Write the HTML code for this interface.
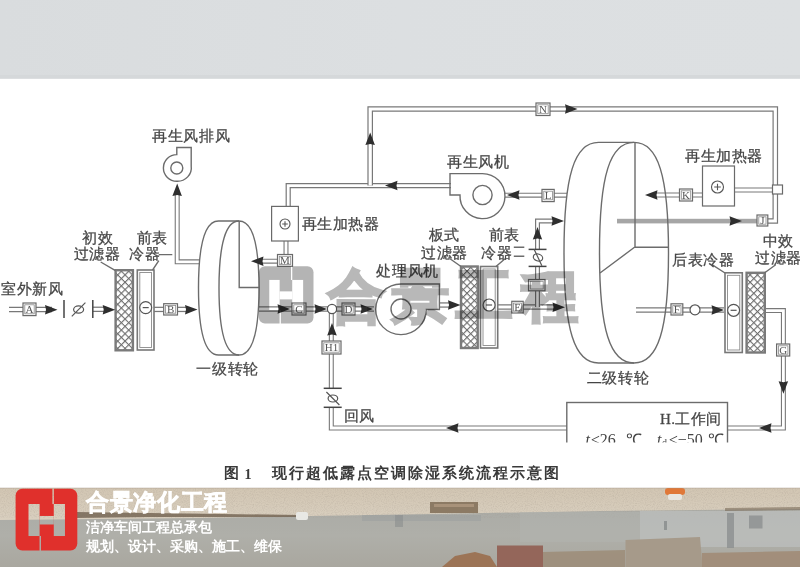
<!DOCTYPE html>
<html><head><meta charset="utf-8">
<style>
html,body{margin:0;padding:0;background:#fff;width:800px;height:567px;overflow:hidden}
svg{display:block;filter:blur(0.35px)}
.t{font-family:"Liberation Serif",serif;font-size:15px;letter-spacing:0.6px;fill:#464646;stroke:#464646;stroke-width:0.28px}
.bx{fill:#fff;stroke:#6a6a6a;stroke-width:1.2}
.ln{fill:none;stroke:#6c6c6c;stroke-width:1.4}
.po{fill:none;stroke:#787878;stroke-linejoin:miter;stroke-linecap:butt}
.pi{fill:none;stroke:#fff;stroke-linejoin:miter;stroke-linecap:butt}
.ar{fill:#2e2e2e}
.lt{font-family:"Liberation Serif",serif;font-size:11px;fill:#555;text-anchor:middle}
</style></head><body>
<svg width="800" height="567" viewBox="0 0 800 567">
<defs>
<pattern id="hatch" width="5.2" height="5.2" patternUnits="userSpaceOnUse" patternTransform="translate(0,2) rotate(45)">
<rect width="5.2" height="5.2" fill="#fff"/>
<path d="M0 0H5.2M0 0V5.2" stroke="#6e6e6e" stroke-width="2.3"/>
</pattern>
<linearGradient id="sky" x1="0" y1="0" x2="1" y2="0">
<stop offset="0" stop-color="#d9dcde"/><stop offset="0.5" stop-color="#dcdfe1"/><stop offset="1" stop-color="#dde0e2"/>
</linearGradient>
</defs>

<rect x="0" y="0" width="800" height="78.6" fill="url(#sky)"/>
<rect x="0" y="75" width="800" height="3.6" fill="#d5d8da"/>
<path class="po" d="M9,309.5H52" style="stroke-width:5.4"/>
<path class="pi" d="M9,309.5H52" style="stroke-width:2.9"/>
<path class="po" d="M93,309.3H104" style="stroke-width:5.4"/>
<path class="pi" d="M93,309.3H104" style="stroke-width:2.9"/>
<path class="po" d="M154,309.4H186" style="stroke-width:5.4"/>
<path class="pi" d="M154,309.4H186" style="stroke-width:2.9"/>
<path class="po" d="M259,309H374" style="stroke-width:5.4"/>
<path class="pi" d="M259,309H374" style="stroke-width:2.9"/>
<path class="po" d="M439,305H450" style="stroke-width:5.4"/>
<path class="pi" d="M439,305H450" style="stroke-width:2.9"/>
<path class="po" d="M497.7,307H554" style="stroke-width:5.4"/>
<path class="pi" d="M497.7,307H554" style="stroke-width:2.9"/>
<path class="po" d="M537.5,307V266.4" style="stroke-width:5.0"/>
<path class="pi" d="M537.5,307V266.4" style="stroke-width:2.6"/>
<path class="po" d="M537.5,249.4V221H554" style="stroke-width:5.0"/>
<path class="pi" d="M537.5,249.4V221H554" style="stroke-width:2.6"/>
<path class="po" d="M636,310H724" style="stroke-width:5.4"/>
<path class="pi" d="M636,310H724" style="stroke-width:2.9"/>
<path class="po" d="M288.2,206.4V185.6H451" style="stroke-width:5.2"/>
<path class="pi" d="M288.2,206.4V185.6H451" style="stroke-width:2.8"/>
<path class="po" d="M370.2,185.6V109H775.3V221H767" style="stroke-width:5.6"/>
<path class="pi" d="M370.2,185.6V109H775.3V221H767" style="stroke-width:3.2"/>
<path class="po" d="M567,195.2H505" style="stroke-width:5.0"/>
<path class="pi" d="M567,195.2H505" style="stroke-width:2.8"/>
<path class="po" d="M734.5,190H773" style="stroke-width:5.0"/>
<path class="pi" d="M734.5,190H773" style="stroke-width:2.8"/>
<path class="po" d="M702.5,195H656" style="stroke-width:5.0"/>
<path class="pi" d="M702.5,195H656" style="stroke-width:2.8"/>
<path class="po" d="M286,241V261.2H262" style="stroke-width:5.0"/>
<path class="pi" d="M286,241V261.2H262" style="stroke-width:2.8"/>
<path class="po" d="M200,261.8H177.2V194" style="stroke-width:5.0"/>
<path class="pi" d="M200,261.8H177.2V194" style="stroke-width:2.8"/>
<path class="po" d="M331.3,313V388.3" style="stroke-width:5.0"/>
<path class="pi" d="M331.3,313V388.3" style="stroke-width:2.8"/>
<path class="po" d="M331.3,407.3V428H567" style="stroke-width:5.0"/>
<path class="pi" d="M331.3,407.3V428H567" style="stroke-width:2.8"/>
<path class="po" d="M727.5,428H783.4V310.6H764.8" style="stroke-width:5.0"/>
<path class="pi" d="M727.5,428H783.4V310.6H764.8" style="stroke-width:2.8"/>
<rect x="617" y="218.8" width="141" height="4.6" fill="#a6a6a6"/>
<path class="ln" d="M239,221 L218.5,221 C205.3,221 198.5,243.8 198.5,288 C198.5,332.2 205.3,355 218.5,355 L239,355"/>
<path class="ln" d="M239,221 C252.2,221 259,243.8 259,288 C259,332.2 252.2,355 239,355 C225.8,355 219,332.2 219,288 C219,243.8 225.8,221 239,221Z"/>
<path class="ln" d="M239.2,221V287.5H259"/>
<path class="ln" d="M634,142.39999999999998 L598.5,142.39999999999998 C574.4,142.39999999999998 564.0,175.5 564.0,252.7 C564.0,329.9 574.4,363.0 598.5,363.0 L634,363.0"/>
<path class="ln" d="M634,142.39999999999998 C658.1,142.39999999999998 668.5,175.5 668.5,252.7 C668.5,329.9 658.1,363.0 634,363.0 C609.9,363.0 599.5,329.9 599.5,252.7 C599.5,175.5 609.9,142.39999999999998 634,142.39999999999998Z"/>
<path class="ln" d="M635,142.5V247.3H668.5M634.5,247.3L600,273"/>
<rect x="115.6" y="270.2" width="17.3" height="80.1" fill="url(#hatch)" stroke="#7a7a7a" stroke-width="2.4"/>
<rect x="137.3" y="270" width="16.7" height="80.0" fill="#fff" stroke="#777" stroke-width="1.6"/>
<rect x="139.8" y="272.5" width="11.7" height="75.0" fill="none" stroke="#8a8a8a" stroke-width="0.9"/>
<circle cx="145.7" cy="307.6" r="6" fill="#fff" stroke="#555" stroke-width="1.2"/>
<line x1="142.7" y1="307.6" x2="148.7" y2="307.6" stroke="#555" stroke-width="1.2"/>
<rect x="461" y="266.5" width="16.7" height="81.5" fill="url(#hatch)" stroke="#7a7a7a" stroke-width="2.4"/>
<rect x="480.5" y="266.5" width="17.2" height="81.5" fill="#fff" stroke="#777" stroke-width="1.6"/>
<rect x="483.0" y="269.0" width="12.2" height="76.5" fill="none" stroke="#8a8a8a" stroke-width="0.9"/>
<circle cx="489.1" cy="305" r="6" fill="#fff" stroke="#555" stroke-width="1.2"/>
<line x1="486.1" y1="305" x2="492.1" y2="305" stroke="#555" stroke-width="1.2"/>
<rect x="725" y="272.8" width="17.3" height="79.7" fill="#fff" stroke="#777" stroke-width="1.6"/>
<rect x="727.5" y="275.3" width="12.3" height="74.7" fill="none" stroke="#8a8a8a" stroke-width="0.9"/>
<circle cx="733.6" cy="310.3" r="6" fill="#fff" stroke="#555" stroke-width="1.2"/>
<line x1="730.6" y1="310.3" x2="736.6" y2="310.3" stroke="#555" stroke-width="1.2"/>
<rect x="746.6" y="272.8" width="18.2" height="79.7" fill="url(#hatch)" stroke="#7a7a7a" stroke-width="2.4"/>
<rect class="bx" x="271.6" y="206.4" width="26.8" height="34.6"/>
<circle cx="285" cy="224" r="5" fill="none" stroke="#555" stroke-width="1.1"/>
<path d="M282.2 224H287.8M285 221.2V226.8" stroke="#555" stroke-width="1.1"/>
<rect class="bx" x="702.5" y="166" width="32.0" height="40.0"/>
<circle cx="717.5" cy="187" r="6" fill="none" stroke="#555" stroke-width="1.1"/>
<path d="M714.2 187H720.8M717.5 183.7V190.3" stroke="#555" stroke-width="1.1"/>
<rect class="bx" x="23" y="303" width="13.0" height="12.6"/>
<rect fill="none" stroke="#8a8a8a" stroke-width="0.8" x="24.8" y="304.8" width="9.4" height="9.0"/>
<text class="lt" x="29.5" y="312.9">A</text>
<rect class="bx" x="163.7" y="303.7" width="13.8" height="11.3"/>
<rect fill="none" stroke="#8a8a8a" stroke-width="0.8" x="165.5" y="305.5" width="10.2" height="7.7"/>
<text class="lt" x="170.6" y="313.0">B</text>
<rect class="bx" x="292" y="303" width="14.0" height="12.0"/>
<rect fill="none" stroke="#8a8a8a" stroke-width="0.8" x="293.8" y="304.8" width="10.4" height="8.4"/>
<text class="lt" x="299.0" y="312.6">C</text>
<rect class="bx" x="342" y="303" width="13.0" height="12.0"/>
<rect fill="none" stroke="#8a8a8a" stroke-width="0.8" x="343.8" y="304.8" width="9.4" height="8.4"/>
<text class="lt" x="348.5" y="312.6">D</text>
<rect class="bx" x="511.8" y="301.3" width="11.4" height="11.7"/>
<rect fill="none" stroke="#8a8a8a" stroke-width="0.8" x="513.6" y="303.1" width="7.8" height="8.1"/>
<text class="lt" x="517.5" y="310.8">E</text>
<rect class="bx" x="671" y="303.8" width="11.8" height="11.2"/>
<rect fill="none" stroke="#8a8a8a" stroke-width="0.8" x="672.8" y="305.6" width="8.2" height="7.6"/>
<text class="lt" x="676.9" y="313.0">F</text>
<rect class="bx" x="776.6" y="344" width="13.1" height="12.0"/>
<rect fill="none" stroke="#8a8a8a" stroke-width="0.8" x="778.4" y="345.8" width="9.5" height="8.4"/>
<text class="lt" x="783.2" y="353.6">G</text>
<rect class="bx" x="322" y="341" width="19.0" height="13.0"/>
<rect fill="none" stroke="#8a8a8a" stroke-width="0.8" x="323.8" y="342.8" width="15.4" height="9.4"/>
<text class="lt" x="331.5" y="351.1">H1</text>
<rect class="bx" x="757" y="215" width="10.8" height="11.0"/>
<rect fill="none" stroke="#8a8a8a" stroke-width="0.8" x="758.8" y="216.8" width="7.2" height="7.4"/>
<text class="lt" x="762.4" y="224.1">J</text>
<rect class="bx" x="679.5" y="189" width="13.0" height="12.0"/>
<rect fill="none" stroke="#8a8a8a" stroke-width="0.8" x="681.3" y="190.8" width="9.4" height="8.4"/>
<text class="lt" x="686.0" y="198.6">K</text>
<rect class="bx" x="542" y="189.4" width="12.2" height="12.2"/>
<rect fill="none" stroke="#8a8a8a" stroke-width="0.8" x="543.8" y="191.2" width="8.6" height="8.6"/>
<text class="lt" x="548.1" y="199.1">L</text>
<rect class="bx" x="277.5" y="254.5" width="15.0" height="11.8"/>
<rect fill="none" stroke="#8a8a8a" stroke-width="0.8" x="279.3" y="256.3" width="11.4" height="8.2"/>
<text class="lt" x="285.0" y="264.0">M</text>
<rect class="bx" x="536" y="103" width="14.0" height="12.5"/>
<rect fill="none" stroke="#8a8a8a" stroke-width="0.8" x="537.8" y="104.8" width="10.4" height="8.9"/>
<text class="lt" x="543.0" y="112.8">N</text>
<rect class="bx" x="528.5" y="279.5" width="16.5" height="11.3"/>
<rect fill="none" stroke="#8a8a8a" stroke-width="0.8" x="530.3" y="281.3" width="12.9" height="7.7"/>
<text class="lt" x="536.8" y="288.8"></text>
<rect class="bx" x="772.5" y="185" width="10" height="9"/>
<circle cx="332" cy="309" r="4.6" fill="#fff" stroke="#555" stroke-width="1.2"/>
<circle cx="695" cy="309.8" r="5" fill="#fff" stroke="#555" stroke-width="1.2"/>
<line x1="64" y1="300" x2="64" y2="318" stroke="#444" stroke-width="1.5"/>
<line x1="92.8" y1="300" x2="92.8" y2="318" stroke="#444" stroke-width="1.5"/>
<g transform="translate(78.6,309.5) rotate(0)"><ellipse cx="0" cy="0" rx="5" ry="3.6" fill="none" stroke="#555" stroke-width="1.2"/><line x1="-6.8" y1="6.8" x2="6.8" y2="-6.8" stroke="#555" stroke-width="1.2"/></g>
<line x1="528.6" y1="249.4" x2="546.5" y2="249.4" stroke="#444" stroke-width="1.5"/>
<line x1="528.6" y1="266.4" x2="546.5" y2="266.4" stroke="#444" stroke-width="1.5"/>
<g transform="translate(538,257.5) rotate(20)"><ellipse cx="0" cy="0" rx="4.8" ry="3.5" fill="none" stroke="#555" stroke-width="1.2"/><line x1="-6.5" y1="-6.5" x2="6.5" y2="6.5" stroke="#555" stroke-width="1.2"/></g>
<line x1="323.7" y1="388.3" x2="341.7" y2="388.3" stroke="#444" stroke-width="1.5"/>
<line x1="323.7" y1="407.3" x2="341.7" y2="407.3" stroke="#444" stroke-width="1.5"/>
<g transform="translate(332.9,398.5) rotate(0)"><ellipse cx="0" cy="0" rx="4.8" ry="3.5" fill="none" stroke="#555" stroke-width="1.2"/><line x1="-6.5" y1="-6.5" x2="6.5" y2="6.5" stroke="#555" stroke-width="1.2"/></g>
<polygon class="ar" points="57.5,309.8 45.0,305.1 46.0,309.8 45.0,314.6"/>
<polygon class="ar" points="115.2,309.7 102.7,304.9 103.7,309.7 102.7,314.4"/>
<polygon class="ar" points="197.5,309.6 185.0,304.9 186.0,309.6 185.0,314.4"/>
<polygon class="ar" points="290.0,309.0 277.5,304.2 278.5,309.0 277.5,313.8"/>
<polygon class="ar" points="327.0,309.0 314.5,304.2 315.5,309.0 314.5,313.8"/>
<polygon class="ar" points="373.0,309.0 360.5,304.2 361.5,309.0 360.5,313.8"/>
<polygon class="ar" points="460.5,305.0 448.0,300.2 449.0,305.0 448.0,309.8"/>
<polygon class="ar" points="565.0,307.3 552.5,302.6 553.5,307.3 552.5,312.1"/>
<polygon class="ar" points="564.0,221.0 551.5,216.2 552.5,221.0 551.5,225.8"/>
<polygon class="ar" points="537.5,227.0 532.8,239.5 537.5,238.5 542.2,239.5"/>
<polygon class="ar" points="724.0,310.0 711.5,305.2 712.5,310.0 711.5,314.8"/>
<polygon class="ar" points="370.2,132.5 365.4,145.0 370.2,144.0 374.9,145.0"/>
<polygon class="ar" points="577.5,109.0 565.0,104.2 566.0,109.0 565.0,113.8"/>
<polygon class="ar" points="385.0,185.6 397.5,180.8 396.5,185.6 397.5,190.3"/>
<polygon class="ar" points="507.0,195.0 519.5,190.2 518.5,195.0 519.5,199.8"/>
<polygon class="ar" points="645.0,195.0 657.5,190.2 656.5,195.0 657.5,199.8"/>
<polygon class="ar" points="251.0,261.2 263.5,256.4 262.5,261.2 263.5,265.9"/>
<polygon class="ar" points="177.2,183.5 172.4,196.0 177.2,195.0 181.9,196.0"/>
<polygon class="ar" points="742.0,221.0 729.5,216.2 730.5,221.0 729.5,225.8"/>
<polygon class="ar" points="332.0,323.0 327.2,335.5 332.0,334.5 336.8,335.5"/>
<polygon class="ar" points="446.0,428.0 458.5,423.2 457.5,428.0 458.5,432.8"/>
<polygon class="ar" points="783.4,393.8 778.6,381.3 783.4,382.3 788.1,381.3"/>
<polygon class="ar" points="759.0,428.0 771.5,423.2 770.5,428.0 771.5,432.8"/>
<path class="ln" d="M176.8,147.5H191.2V166A14,13.5 0 0 1 176.8,181.3A13.4,13.4 0 0 1 163.4,168A13.4,13.4 0 0 1 176.8,154.6Z" fill="#fff"/>
<circle class="ln" cx="176.8" cy="168" r="6"/>
<path class="ln" d="M450,195V173.6H482.5A22.5,22.5 0 1 1 460,195Z" fill="#fff"/>
<circle class="ln" cx="482.5" cy="195" r="9.6"/>
<path class="ln" d="M439.4,309.5V284H401A25.3,25.3 0 1 0 426.3,309.5Z" fill="#fff"/>
<circle class="ln" cx="401" cy="309" r="10"/>
<path class="ln" d="M100.7,262L115.5,270.6M158.8,260.7L152.6,270M158.8,254.6H172.3"/>
<path class="ln" d="M450,258.7L461,266.5M505,258.7L496,266.5M513.8,247.3H524.3M513.8,256.2H524.3"/>
<path class="ln" d="M712,264.7L725,273M775.7,264.7L764.4,273"/>
<rect class="ln" x="566.8" y="402.5" width="160.7" height="60"/>
<text class="t" x="152.3" y="141.2" style="font-size:15px">再生风排风</text>
<text class="t" x="1" y="294.4" style="font-size:15px">室外新风</text>
<text class="t" x="82" y="242.5" style="font-size:15px">初效</text>
<text class="t" x="73.6" y="259.3" style="font-size:15px">过滤器</text>
<text class="t" x="136.5" y="242.5" style="font-size:15px">前表</text>
<text class="t" x="129" y="259.3" style="font-size:15px">冷器</text>
<text class="t" x="301.5" y="229.2" style="font-size:15px">再生加热器</text>
<text class="t" x="196.4" y="373.7" style="font-size:15px">一级转轮</text>
<text class="t" x="376.4" y="275.9" style="font-size:15px">处理风机</text>
<text class="t" x="428.7" y="240.1" style="font-size:15px">板式</text>
<text class="t" x="421" y="257.7" style="font-size:15px">过滤器</text>
<text class="t" x="488.7" y="240.1" style="font-size:15px">前表</text>
<text class="t" x="481.3" y="257.7" style="font-size:15px">冷器</text>
<text class="t" x="447.3" y="167.2" style="font-size:15px">再生风机</text>
<text class="t" x="685" y="161.3" style="font-size:15px">再生加热器</text>
<text class="t" x="672.3" y="264.9" style="font-size:15px">后表冷器</text>
<text class="t" x="762.5" y="246.3" style="font-size:15px">中效</text>
<text class="t" x="755" y="263.3" style="font-size:15px">过滤器</text>
<text class="t" x="586.8" y="382.5" style="font-size:15px">二级转轮</text>
<text class="t" x="343.8" y="420.7" style="font-size:15px">回风</text>
<text class="t" x="660" y="423.6" style="font-size:15px;letter-spacing:0.4px">H.工作间</text>
<g style="font-family:'Liberation Serif',serif;font-size:16px;fill:#444">
<text x="585.5" y="444.5" font-style="italic">t</text><text x="591" y="444.5">≤26</text><text x="626" y="444.5">℃</text>
<text x="657" y="444.5" font-style="italic">t</text><text x="662" y="446" font-size="10">d</text><text x="669" y="444.5">≤−50</text><text x="708" y="444.5">℃</text>
</g>
<rect x="0" y="442.5" width="800" height="46" fill="#fff"/>
<text x="223.5" y="478.3" style="font-family:'Liberation Sans',sans-serif;font-size:14.5px;font-weight:bold;fill:#3a3a3a">图</text>
<text x="244.5" y="478.5" style="font-family:'Liberation Serif',serif;font-size:14px;font-weight:bold;fill:#3a3a3a">1</text>
<text x="271.5" y="478.3" style="font-family:'Liberation Sans',sans-serif;font-size:15px;font-weight:bold;fill:#3a3a3a;letter-spacing:2.06px">现行超低露点空调除湿系统流程示意图</text>
<g style="mix-blend-mode:multiply">
<g transform="translate(258.9,266.2)" opacity="1.0"><mask id="lgm1" maskUnits="userSpaceOnUse" x="-1" y="-1" width="56.6" height="59.2"><rect x="-1" y="-1" width="56.6" height="59.2" fill="#fff"/><rect x="10.37" y="13.73" width="10.37" height="30.09" fill="#000"/><rect x="33.31" y="13.73" width="10.92" height="30.09" fill="#000"/><rect x="20.69" y="25.17" width="12.67" height="8.01" fill="#000"/><rect x="32.10" y="-2.86" width="1.26" height="16.65" fill="#000"/><rect x="20.69" y="43.76" width="1.26" height="16.30" fill="#000"/></mask><rect x="0" y="0" width="54.60" height="57.20" rx="6.01" fill="#b4b4b4" mask="url(#lgm1)"/></g>
<text x="328" y="316" style="font-family:'Liberation Sans',sans-serif;font-size:57px;font-weight:bold;fill:#b8b8b8;stroke:#b8b8b8;stroke-width:2.6px;stroke-linejoin:miter;letter-spacing:7.2px">合景工程</text>
</g>

<defs>
<linearGradient id="grav" x1="0" y1="0" x2="0" y2="1">
<stop offset="0" stop-color="#d2c6b3"/><stop offset="1" stop-color="#d9cfbf"/>
</linearGradient>
<linearGradient id="conc" x1="0" y1="0" x2="0" y2="1">
<stop offset="0" stop-color="#a8a9a4"/><stop offset="0.6" stop-color="#afafa9"/><stop offset="1" stop-color="#a9a79f"/>
</linearGradient>
<filter id="noise" x="0" y="0" width="100%" height="100%">
<feTurbulence type="fractalNoise" baseFrequency="0.9" numOctaves="2" seed="3"/>
<feColorMatrix values="0 0 0 0 0.35  0 0 0 0 0.3  0 0 0 0 0.25  0 0 0 1.1 -0.45"/>
</filter>
</defs>
<rect x="0" y="488" width="800" height="79" fill="url(#conc)"/>
<path d="M0,488H800V509L600,511L400,514.5L200,518L0,520Z" fill="url(#grav)"/>
<rect x="0" y="488" width="800" height="30" filter="url(#noise)" opacity="0.5"/>
<path d="M75,512L150,513L300,515L300,517L150,517L75,518Z" fill="#6a5a48" opacity="0.75"/>
<rect x="296" y="512" width="12" height="8" rx="2" fill="#e8e8e4"/>
<rect x="430" y="502" width="48" height="11" fill="#8c7a64"/>
<rect x="434" y="504" width="40" height="3" fill="#a8927a"/>
<path d="M362,515H481V521H362Z" fill="#9a9d9d" opacity="0.5"/>
<rect x="395" y="515" width="8" height="12" fill="#8a8d8d" opacity="0.6"/>
<rect x="640" y="511" width="160" height="36" fill="#bcbfbd" opacity="0.75"/>
<rect x="520" y="512" width="120" height="30" fill="#b2b3b0" opacity="0.5"/>
<path d="M725,508L800,507V510L725,511Z" fill="#7a6a58" opacity="0.6"/>
<rect x="727" y="513" width="7" height="35" fill="#8c9090" opacity="0.8"/>
<rect x="749" y="515.5" width="13.5" height="13" fill="#8c9090" opacity="0.8"/>
<rect x="664" y="521" width="3" height="9" fill="#808484" opacity="0.7"/>
<rect x="665" y="488" width="20" height="7" rx="3" fill="#e07838"/>
<rect x="668" y="494" width="14" height="6" rx="2" fill="#e8e6e0"/>
<rect x="497" y="545.5" width="46" height="21.5" fill="#94665a"/>
<path d="M442,567L455,556L475,552L490,556L497,567Z" fill="#9c7456"/>
<path d="M543,567V552L625,550V567Z" fill="#9c8c78" opacity="0.85"/>
<path d="M625.5,540L700,537L702.5,567H625.5Z" fill="#a69a8a"/>
<path d="M702,567V553L800,551V567Z" fill="#a08a74" opacity="0.85"/>
<rect x="0" y="487.5" width="800" height="1" fill="#a09482" opacity="0.4"/>

<g transform="translate(15.6,488.7)" opacity="1.0"><mask id="lgm2" maskUnits="userSpaceOnUse" x="-1" y="-1" width="63.7" height="63.7"><rect x="-1" y="-1" width="63.7" height="63.7" fill="#fff"/><rect x="12.90" y="15.30" width="11.11" height="32.02" fill="#000"/><rect x="38.19" y="15.30" width="11.17" height="32.02" fill="#000"/><rect x="23.94" y="27.27" width="14.31" height="8.51" fill="#000"/><rect x="36.83" y="-3.09" width="1.42" height="18.45" fill="#000"/><rect x="23.94" y="47.26" width="1.42" height="17.52" fill="#000"/></mask><rect x="0" y="0" width="61.70" height="61.70" rx="6.79" fill="#e0302c" mask="url(#lgm2)"/></g>
<text x="86" y="510" style="font-family:'Liberation Sans',sans-serif;font-size:23px;font-weight:bold;fill:#fff;stroke:#fff;stroke-width:0.6px;letter-spacing:0.7px">合景净化工程</text>
<text x="86" y="532" style="font-family:'Liberation Sans',sans-serif;font-size:14px;font-weight:bold;fill:#fff">洁净车间工程总承包</text>
<text x="86" y="550.5" style="font-family:'Liberation Sans',sans-serif;font-size:14px;font-weight:bold;fill:#fff">规划、设计、采购、施工、维保</text>
</svg></body></html>
